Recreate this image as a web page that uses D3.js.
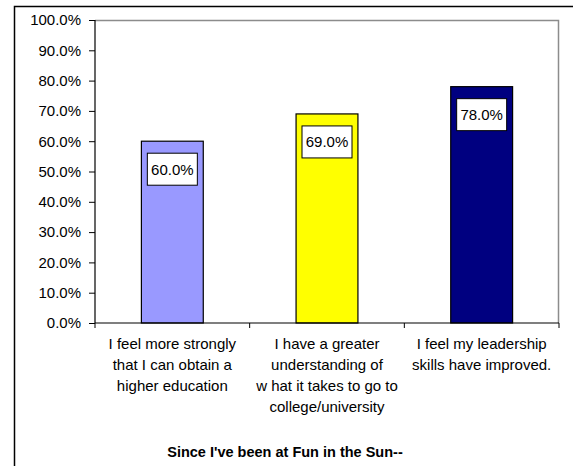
<!DOCTYPE html>
<html>
<head>
<meta charset="utf-8">
<script src="https://cdn.jsdelivr.net/npm/d3@7/dist/d3.min.js"></script>
<style>
  body { margin: 0; background: #fff; }
  svg { display: block; font-family: "Liberation Sans", Arial, sans-serif; }
</style>
</head>
<body>
<svg id="barsvg" width="573" height="466"></svg>
<script>
// data
const categories = [
  ['I feel more strongly', 'that I can obtain a', 'higher education'],
  ['I have a greater', 'understanding of', 'w hat it takes to go to', 'college/university'],
  ['I feel my leadership', 'skills have improved.']
];
const values = [0.60, 0.69, 0.78];
const barColors = ['#9999ff', '#ffff00', '#000080'];
const yTicks = [0, 0.1, 0.2, 0.3, 0.4, 0.5, 0.6, 0.7, 0.8, 0.9, 1.0];
const chartTitle = "Since I've been at Fun in the Sun--";

const svg = d3.select('#barsvg');
const margin = {top: 20, right: 14, left: 95, bottom: 143};
const width = +svg.attr('width');
const height = +svg.attr('height');
const innerWidth = width - margin.left - margin.right;
const innerHeight = height - margin.top - margin.bottom;

// outer chart frame: only top and left edges are visible in the picture
svg.append('path')
    .attr('d', `M14.5,${height}V6.5H${width}`)
    .attr('fill', 'none')
    .attr('stroke', '#000')
    .attr('stroke-width', 1.5);

const g = svg.append('g')
    .attr('transform', `translate(${margin.left}, ${margin.top})`);

const idx = d3.range(values.length);
const xScale = d3.scaleBand().domain(idx).range([0, innerWidth])
    .paddingInner(0.6).paddingOuter(0.3);
const yScale = d3.scaleLinear().domain([0, 1]).range([innerHeight, 0]);

// plot area border: grey top and right
g.append('path')
    .attr('d', `M0,0.5H${innerWidth - 0.5}V${innerHeight}`)
    .attr('fill', 'none')
    .attr('stroke', '#8c8c8c')
    .attr('stroke-width', 1.5);

// bars
g.selectAll('.bar').data(idx)
  .enter().append('rect')
    .attr('class', 'bar')
    .attr('x', i => xScale(i))
    .attr('y', i => yScale(values[i]))
    .attr('width', xScale.bandwidth())
    .attr('height', i => innerHeight - yScale(values[i]))
    .attr('fill', i => barColors[i])
    .attr('stroke', '#000')
    .attr('stroke-width', 1.2);

// y axis
const yAxis = d3.axisLeft(yScale).tickValues(yTicks)
    .tickFormat(d3.format('.1%')).tickSize(6).tickPadding(8);
const yAxisG = g.append('g').call(yAxis);
yAxisG.select('.domain').attr('stroke', '#000').attr('stroke-width', 1.2)
    .attr('d', `M0,0V${innerHeight}`);
yAxisG.selectAll('text').attr('font-size', 15).attr('fill', '#000')
    .attr('font-family', '"Liberation Sans", Arial, sans-serif');

// x axis with ticks between categories
const step = xScale.step();
const xAxisG = g.append('g').attr('transform', `translate(0, ${innerHeight})`);
xAxisG.append('line')
    .attr('x1', 0).attr('x2', innerWidth)
    .attr('stroke', '#000').attr('stroke-width', 1.2);
xAxisG.selectAll('.xtick').data(d3.range(values.length + 1))
  .enter().append('line')
    .attr('class', 'xtick')
    .attr('x1', i => i * step).attr('x2', i => i * step)
    .attr('y1', 0).attr('y2', 5)
    .attr('stroke', '#000');

// category labels, one text per line
xAxisG.selectAll('.cat')
    .data(idx.flatMap(i => categories[i].map((line, j) => ({i, j, line}))))
  .enter().append('text')
    .attr('class', 'cat')
    .attr('text-anchor', 'middle')
    .attr('font-size', 15)
    .attr('fill', '#000')
    .attr('x', d => xScale(d.i) + xScale.bandwidth() / 2)
    .attr('y', d => 26 + d.j * 21)
    .text(d => d.line);

// data labels inside bar tops
const lbl = g.selectAll('.lbl').data(idx)
  .enter().append('g')
    .attr('class', 'lbl')
    .attr('transform', i => `translate(${xScale(i) + xScale.bandwidth() / 2}, ${yScale(values[i]) + 28})`);
lbl.append('rect')
    .attr('x', -25).attr('y', -16)
    .attr('width', 50).attr('height', 32)
    .attr('fill', '#fff')
    .attr('stroke', '#000')
    .attr('stroke-width', 1);
lbl.append('text')
    .attr('text-anchor', 'middle')
    .attr('dy', '0.36em')
    .attr('font-size', 15)
    .attr('fill', '#000')
    .text(i => d3.format('.1%')(values[i]));

// title
svg.append('text')
    .attr('x', 285)
    .attr('y', 457)
    .attr('text-anchor', 'middle')
    .attr('font-size', 14.5)
    .attr('font-weight', 'bold')
    .attr('fill', '#000')
    .text(chartTitle);
</script>
</body>
</html>
